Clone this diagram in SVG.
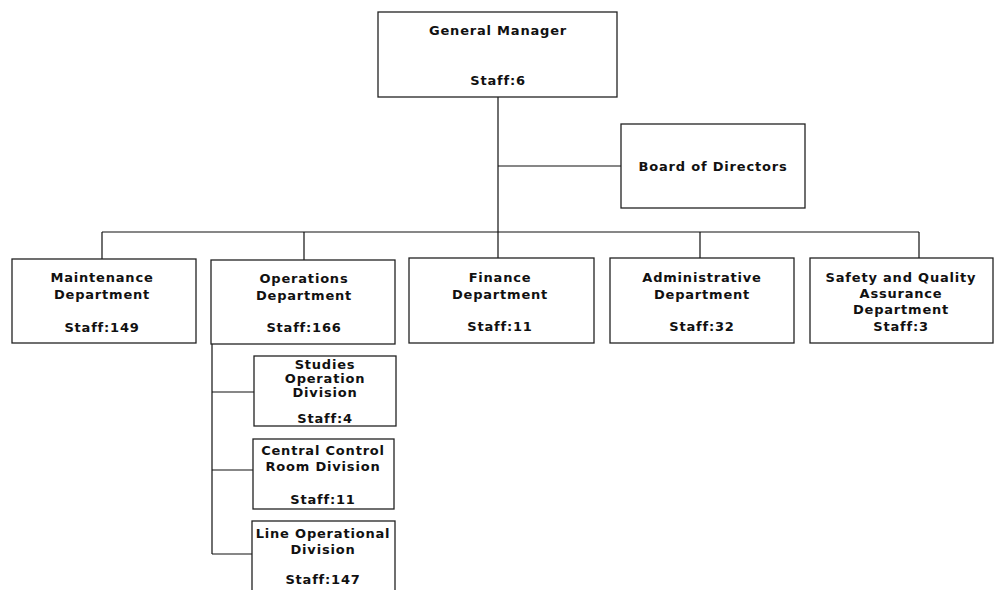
<svg xmlns="http://www.w3.org/2000/svg" width="994" height="590" viewBox="0 0 994 590">
<style>
rect{fill:#fff;stroke:#222;stroke-width:1.3}
text{font-family:"DejaVu Sans",Verdana,sans-serif;font-weight:bold;font-size:13px;letter-spacing:0.8px;fill:#111;text-anchor:middle;dominant-baseline:central}
.c{fill:none;stroke:#111;stroke-width:1.2}
</style>
<rect x="0" y="0" width="994" height="590" style="stroke:none"/>
<g id="connectors">
<path class="c" d="M498 97V232M498 166H621M102 232H919M102 232V259M304 232V260M498 232V258M700 232V258M919 232V258M212 344V554M212 392H254M212 470H253M212 554H252"/>
</g>
<g id="gm"><rect x="378" y="12" width="239" height="85"/><text x="498" y="30">General Manager</text><text x="498" y="80">Staff:6</text></g>
<g id="board"><rect x="621" y="124" width="184" height="84"/><text x="713" y="166">Board of Directors</text></g>
<g id="maintenance"><rect x="12" y="259" width="184" height="84"/><text x="102" y="277">Maintenance</text><text x="102" y="294">Department</text><text x="102" y="327">Staff:149</text></g>
<g id="operations"><rect x="211" y="260" width="184" height="84"/><text x="304" y="278">Operations</text><text x="304" y="295">Department</text><text x="304" y="327">Staff:166</text></g>
<g id="finance"><rect x="409" y="258" width="185" height="85"/><text x="500" y="277">Finance</text><text x="500" y="294">Department</text><text x="500" y="326">Staff:11</text></g>
<g id="administrative"><rect x="610" y="258" width="184" height="85"/><text x="702" y="277">Administrative</text><text x="702" y="294">Department</text><text x="702" y="326">Staff:32</text></g>
<g id="safety"><rect x="810" y="258" width="183" height="85"/><text x="901" y="277">Safety and Quality</text><text x="901" y="293">Assurance</text><text x="901" y="309">Department</text><text x="901" y="326">Staff:3</text></g>
<g id="studies"><rect x="254" y="356" width="142" height="70"/><text x="325" y="364">Studies</text><text x="325" y="378">Operation</text><text x="325" y="392">Division</text><text x="325" y="418">Staff:4</text></g>
<g id="central"><rect x="253" y="439" width="141" height="70"/><text x="323" y="450">Central Control</text><text x="323" y="466">Room Division</text><text x="323" y="499">Staff:11</text></g>
<g id="line"><rect x="252" y="521" width="143" height="80"/><text x="323" y="533">Line Operational</text><text x="323" y="549">Division</text><text x="323" y="579">Staff:147</text></g>
</svg>
